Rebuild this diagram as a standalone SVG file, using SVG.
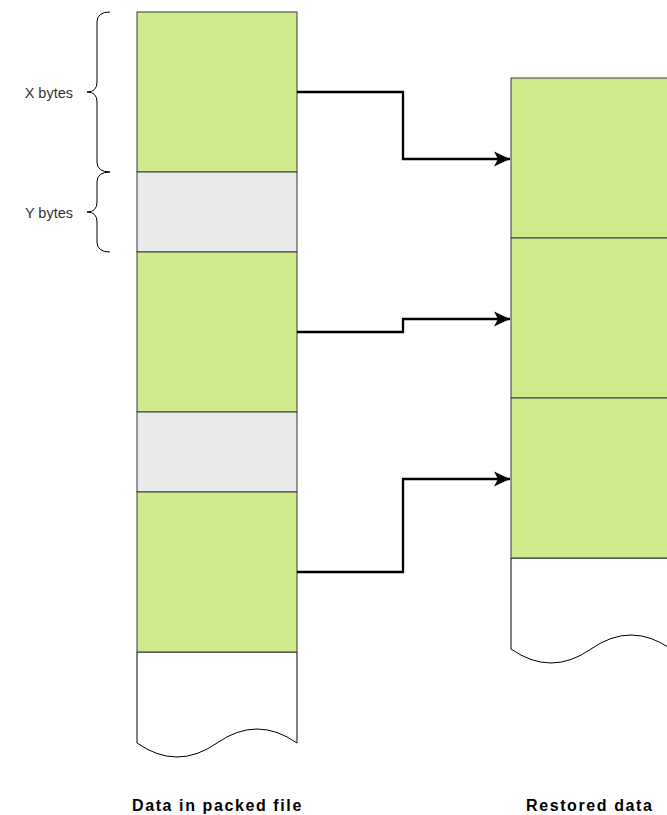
<svg xmlns="http://www.w3.org/2000/svg" width="667" height="815" viewBox="0 0 667 815">
<defs>
<style>
.g{fill:#cdeb8b;stroke:#36393d;stroke-width:1}
.s{fill:#eaeaea;stroke:#36393d;stroke-width:1}
.doc{fill:#ffffff;stroke:#000000;stroke-width:1}
.br{fill:none;stroke:#000000;stroke-width:1}
.lbl{font-family:"Liberation Sans",Arial,sans-serif;font-size:14.5px;fill:#333333}
.ttl{font-family:"Liberation Sans",Arial,sans-serif;font-size:16px;font-weight:bold;fill:#000000;letter-spacing:1.6px}
.c{fill:none;stroke:#000000;stroke-width:2.3}
</style>
<marker id="ah" markerUnits="userSpaceOnUse" markerWidth="18" markerHeight="18" viewBox="0 0 18 18" refX="16" refY="9" orient="auto">
<path d="M0,1.5 L16,9 L0,16.5 L4,9 Z" fill="#000000"/>
</marker>
</defs>
<g id="packed-tail"><path class="doc" d="M137,652 L297,652 L297,743 Q257,715 217,743 Q177,771 137,743 Z"/></g>
<g id="packed-x1"><rect class="g" x="137" y="12" width="160" height="160"/></g>
<g id="packed-y1"><rect class="s" x="137" y="172" width="160" height="80"/></g>
<g id="packed-x2"><rect class="g" x="137" y="252" width="160" height="160"/></g>
<g id="packed-y2"><rect class="s" x="137" y="412" width="160" height="80"/></g>
<g id="packed-x3"><rect class="g" x="137" y="492" width="160" height="160"/></g>
<g id="restored-tail"><path class="doc" d="M511,558 L671,558 L671,649 Q631,621 591,649 Q551,677 511,649 Z"/></g>
<g id="restored-1"><rect class="g" x="511" y="78" width="160" height="160"/></g>
<g id="restored-2"><rect class="g" x="511" y="238" width="160" height="160"/></g>
<g id="restored-3"><rect class="g" x="511" y="398" width="160" height="160"/></g>
<g id="brace-x">
<path class="br" d="M110,12 Q97,12 97,22 L97,82 Q97,92 87,92 Q97,92 97,102 L97,162 Q97,172 110,172"/>
<text class="lbl" x="73" y="98" text-anchor="end">X bytes</text>
</g>
<g id="brace-y">
<path class="br" d="M110,172 Q97,172 97,182 L97,202 Q97,212 87,212 Q97,212 97,222 L97,242 Q97,252 110,252"/>
<text class="lbl" x="73" y="218" text-anchor="end">Y bytes</text>
</g>
<g id="title-packed"><text class="ttl" x="132" y="811">Data in packed file</text></g>
<g id="title-restored"><text class="ttl" x="526" y="811">Restored data</text></g>
<g id="connectors">
<path class="c" d="M297,92 L403,92 L403,159 L510,159" marker-end="url(#ah)"/>
<path class="c" d="M297,332 L403,332 L403,319 L510,319" marker-end="url(#ah)"/>
<path class="c" d="M297,572 L403,572 L403,479 L510,479" marker-end="url(#ah)"/>
</g>
</svg>
